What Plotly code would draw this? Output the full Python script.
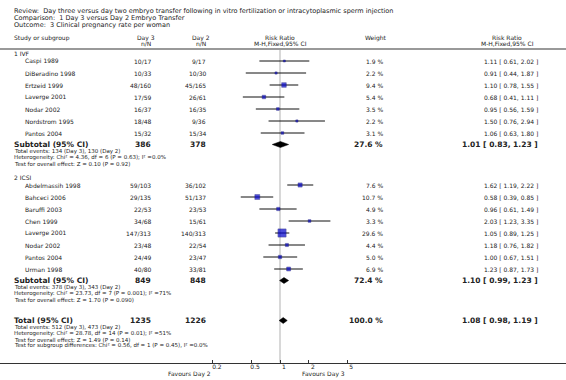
import plotly.graph_objects as go
import math

# ---------------- data ----------------
title_lines = [
    "Review:  Day three versus day two embryo transfer following in vitro fertilization or intracytoplasmic sperm injection",
    "Comparison:  1 Day 3 versus Day 2 Embryo Transfer",
    "Outcome:  3 Clinical pregnancy rate per woman",
]

ivf_studies = ["Caspi 1989", "DiBeradino 1998", "Ertzeid 1999", "Laverge 2001", "Nodar 2002", "Nordstrom 1995", "Pantos 2004"]
ivf_day3 = ["10/17", "10/33", "48/160", "17/59", "16/37", "18/48", "15/32"]
ivf_day2 = ["9/17", "10/30", "45/165", "26/61", "16/35", "9/36", "15/34"]
ivf_weight = [1.9, 2.2, 9.4, 5.4, 3.5, 2.2, 3.1]
ivf_rr = [1.11, 0.91, 1.10, 0.68, 0.95, 1.50, 1.06]
ivf_lo = [0.61, 0.44, 0.78, 0.41, 0.56, 0.76, 0.63]
ivf_hi = [2.02, 1.87, 1.55, 1.11, 1.59, 2.94, 1.80]
ivf_sub = dict(n3="386", n2="378", w="27.6 %", rr=1.01, lo=0.83, hi=1.23)
ivf_notes = ["Total events: 134 (Day 3), 130 (Day 2)",
             "Heterogeneity: Chi² = 4.36, df = 6 (P = 0.63); I² =0.0%",
             "Test for overall effect: Z = 0.10 (P = 0.92)"]

icsi_studies = ["Abdelmassih 1998", "Bahceci 2006", "Baruffi 2003", "Chen 1999", "Laverge 2001", "Nodar 2002", "Pantos 2004", "Urman 1998"]
icsi_day3 = ["59/103", "29/135", "22/53", "34/68", "147/313", "23/48", "24/49", "40/80"]
icsi_day2 = ["36/102", "51/137", "23/53", "15/61", "140/313", "22/54", "23/47", "33/81"]
icsi_weight = [7.6, 10.7, 4.9, 3.3, 29.6, 4.4, 5.0, 6.9]
icsi_rr = [1.62, 0.58, 0.96, 2.03, 1.05, 1.18, 1.00, 1.23]
icsi_lo = [1.19, 0.39, 0.61, 1.23, 0.89, 0.76, 0.67, 0.87]
icsi_hi = [2.22, 0.85, 1.49, 3.35, 1.25, 1.82, 1.51, 1.73]
icsi_sub = dict(n3="849", n2="848", w="72.4 %", rr=1.10, lo=0.99, hi=1.23)
icsi_notes = ["Total events: 378 (Day 3), 343 (Day 2)",
              "Heterogeneity: Chi² = 23.73, df = 7 (P = 0.001); I² =71%",
              "Test for overall effect: Z = 1.70 (P = 0.090)"]

total = dict(n3="1235", n2="1226", w="100.0 %", rr=1.08, lo=0.98, hi=1.19)
total_notes = ["Total events: 512 (Day 3), 473 (Day 2)",
               "Heterogeneity: Chi² = 28.78, df = 14 (P = 0.01); I² =51%",
               "Test for overall effect: Z = 1.49 (P = 0.14)",
               "Test for subgroup differences: Chi² = 0.56, df = 1 (P = 0.45), I² =0.0%"]

tick_vals = [0.2, 0.5, 1, 2, 5]
tick_text = ["0.2", "0.5", "1", "2", "5"]
favours_left = "Favours Day 2"
favours_right = "Favours Day 3"

# ---------------- layout constants (pixels) ----------------
W, H = 566, 380
X_ONE = 280.0       # pixel of RR = 1
PX_DEC = 96.0       # pixels per decade
AXIS_Y = 362.5
FONT = "DejaVu Sans"
TXT = "#222222"

X_LEFT = 12
X_STUDY = 23
X_D3 = 153
X_D2 = 208
X_W = 385
X_CI = 540

fig = go.Figure()
ann = []

def px(xp):
    return xp / W

def text(x, y, s, size=6, anchor="left", bold=False, color=TXT):
    if bold:
        s = "<b>" + s + "</b>"
    ann.append(dict(x=px(x), y=y, xref="paper", yref="y", text=s, showarrow=False,
                    xanchor=anchor, yanchor="middle",
                    font=dict(family=FONT, size=size, color=color)))

# title
for i, t in enumerate(title_lines):
    text(X_LEFT, 11 + i * 7, t, size=6.5)

# headers
text(X_LEFT, 37.5, "Study or subgroup", size=6)
for xc, a, b in [(X_D3 - 7, "Day 3", "n/N"), (X_D2 - 7, "Day 2", "n/N"),
                 (X_ONE, "Risk Ratio", "M-H,Fixed,95% CI"), (X_CI - 33, "Risk Ratio", "M-H,Fixed,95% CI")]:
    text(xc, 37.5, a, size=6, anchor="center")
    text(xc, 43, b, size=6, anchor="center")
text(X_W - 9, 37.5, "Weight", size=6, anchor="center")

def fmt_ci(rr, lo, hi):
    return f"{rr:.2f} [ {lo:.2f}, {hi:.2f} ]"

ci_x, ci_y = [], []
sq_x, sq_y, sq_s = [], [], []
diamonds = []

def group(label, y0, studies, d3, d2, w, rr, lo, hi, sub, notes):
    text(X_LEFT, y0, label, size=6)
    for i in range(len(studies)):
        y = y0 + 7.5 + i * 12
        text(X_STUDY, y, studies[i], size=6)
        text(X_D3, y, d3[i], size=6, anchor="right")
        text(X_D2, y, d2[i], size=6, anchor="right")
        text(X_W, y, f"{w[i]:.1f} %", size=6, anchor="right")
        text(X_CI, y, fmt_ci(rr[i], lo[i], hi[i]), size=6, anchor="right")
        ci_x.extend([lo[i], hi[i], None]); ci_y.extend([y, y, None])
        sq_x.append(rr[i]); sq_y.append(y); sq_s.append(1.5 * math.sqrt(w[i]))
    ys = y0 + 7.5 + len(studies) * 12 - 0.5
    summary("Subtotal (95% CI)", ys, sub, notes)

def summary(label, ys, s, notes):
    text(X_LEFT, ys, label, size=7.5, bold=True)
    text(X_D3, ys, s["n3"], size=7.5, anchor="right", bold=True)
    text(X_D2, ys, s["n2"], size=7.5, anchor="right", bold=True)
    text(X_W, ys, s["w"], size=7.5, anchor="right", bold=True)
    text(X_CI, ys, fmt_ci(s["rr"], s["lo"], s["hi"]), size=7.5, anchor="right", bold=True)
    diamonds.append((s["rr"], s["lo"], s["hi"], ys))
    for j, n in enumerate(notes):
        text(X_LEFT, ys + 7 + j * 6, n, size=5.5)

group("1 IVF", 53.5, ivf_studies, ivf_day3, ivf_day2, ivf_weight, ivf_rr, ivf_lo, ivf_hi, ivf_sub, ivf_notes)
group("2 ICSI", 177.5, icsi_studies, icsi_day3, icsi_day2, icsi_weight, icsi_rr, icsi_lo, icsi_hi, icsi_sub, icsi_notes)
summary("Total (95% CI)", 320.5, total, total_notes)

# favours labels (annotations on a log axis use log10 units)
ann.append(dict(x=math.log10(tick_vals[0]), y=374, xref="x", yref="y", text=favours_left, showarrow=False,
                xanchor="right", yanchor="middle", font=dict(family=FONT, size=6, color=TXT)))
ann.append(dict(x=math.log10(tick_vals[-1]), y=374, xref="x", yref="y", text=favours_right, showarrow=False,
                xanchor="right", yanchor="middle", font=dict(family=FONT, size=6, color=TXT)))

# vertical line at 1 and header separator
shapes = [
    dict(type="line", xref="x", yref="y", x0=1, x1=1, y0=50, y1=AXIS_Y, line=dict(color="#d8d8d8", width=2), layer="below"),
    dict(type="line", xref="paper", yref="y", x0=0, x1=1, y0=49, y1=49, line=dict(color="#999999", width=2)),
]

fig.add_trace(go.Scatter(x=ci_x, y=ci_y, mode="lines", line=dict(color="#111111", width=1),
                         hoverinfo="skip", showlegend=False))
fig.add_trace(go.Scatter(x=sq_x, y=sq_y, mode="markers",
                         marker=dict(symbol="square", size=sq_s, color="#0000cc",
                                     line=dict(color="#000066", width=0.5)),
                         showlegend=False))
for rr, lo, hi, yc in diamonds:
    h = 3
    fig.add_trace(go.Scatter(x=[lo, rr, hi, rr, lo], y=[yc, yc - h, yc, yc + h, yc], mode="lines",
                             fill="toself", fillcolor="#000000", line=dict(color="#000000", width=0.5),
                             showlegend=False, hoverinfo="skip"))

fig.update_layout(
    width=W, height=H, margin=dict(l=0, r=0, t=0, b=0),
    paper_bgcolor="white", plot_bgcolor="white",
    annotations=ann, shapes=shapes, showlegend=False,
    xaxis=dict(type="log", range=[-X_ONE / PX_DEC, (W - X_ONE) / PX_DEC], domain=[0, 1],
               anchor="free", position=1 - AXIS_Y / H,
               showline=True, linecolor="#333333", linewidth=1, ticks="inside", ticklen=3,
               tickcolor="#333333", tickvals=tick_vals, ticktext=tick_text,
               ticklabelshift=4, ticklabelstandoff=-2,
               tickfont=dict(family=FONT, size=6, color=TXT), showgrid=False, zeroline=False),
    yaxis=dict(range=[H, 0], domain=[0, 1], visible=False, showgrid=False, zeroline=False),
)

fig.write_html("out.html", config={"displayModeBar": False},
               post_script="document.body.style.margin='0';document.body.style.overflow='hidden';")
